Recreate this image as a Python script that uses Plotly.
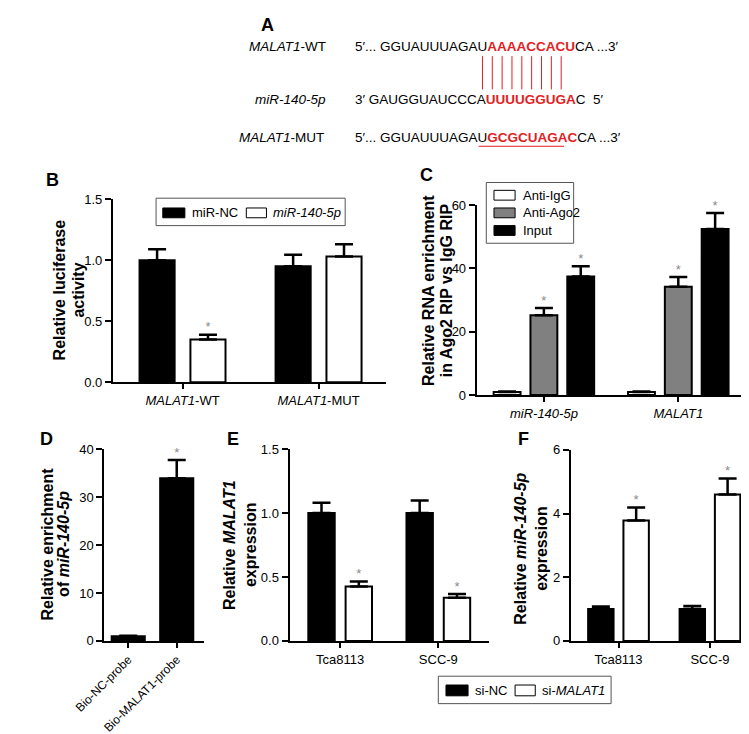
import plotly.graph_objects as go

FONT = "Liberation Sans, Arial, Helvetica, sans-serif"
W, H = 749, 734
RED = "#e31e24"
STAR = "#8a8a8a"
AGO_GRAY = "#808080"

# ---------------- data ----------------
b_categories = ["<i>MALAT1</i>-WT", "<i>MALAT1</i>-MUT"]
b_mirnc = [1.00, 0.95]
b_mirnc_err = [0.09, 0.095]
b_mir140 = [0.35, 1.03]
b_mir140_err = [0.04, 0.10]
b_mir140_sig = [True, False]
b_yticks = [0.0, 0.5, 1.0, 1.5]

c_categories = ["<i>miR-140-5p</i>", "<i>MALAT1</i>"]
c_igg = [1.0, 1.0]
c_igg_err = [0.1, 0.1]
c_ago2 = [25.2, 34.2]
c_ago2_err = [2.3, 3.1]
c_input = [37.4, 52.4]
c_input_err = [3.3, 5.1]
c_ago2_sig = [True, True]
c_input_sig = [True, True]
c_yticks = [0, 20, 40, 60]

d_categories = ["Bio-NC-probe", "Bio-MALAT1-probe"]
d_values = [1.0, 33.9]
d_err = [0.1, 3.8]
d_sig = [False, True]
d_yticks = [0, 10, 20, 30, 40]

e_categories = ["Tca8113", "SCC-9"]
e_sinc = [1.0, 1.0]
e_sinc_err = [0.08, 0.097]
e_simalat1 = [0.426, 0.337]
e_simalat1_err = [0.038, 0.03]
e_sig = [True, True]
e_yticks = [0.0, 0.5, 1.0, 1.5]

f_categories = ["Tca8113", "SCC-9"]
f_sinc = [1.0, 1.0]
f_sinc_err = [0.08, 0.10]
f_simalat1 = [3.78, 4.60]
f_simalat1_err = [0.41, 0.50]
f_sig = [True, True]
f_yticks = [0, 2, 4, 6]

# ---------------- helpers ----------------
def px(x):
    return x / W

def py(y):
    return 1 - y / H

fig = go.Figure()
layout = dict(
    width=W, height=H, margin=dict(l=0, r=0, t=0, b=0),
    paper_bgcolor="white", plot_bgcolor="white",
    barmode="overlay", showlegend=False,
    font=dict(family=FONT, size=13, color="black"),
)
annotations = []
shapes = []

def setup_axes(idx, xbox, ybox, xrange, yrange, categories, yticks, yfmt, tickangle=0, xfont=13):
    xs = "xaxis" if idx == 1 else f"xaxis{idx}"
    ys = "yaxis" if idx == 1 else f"yaxis{idx}"
    xa = "x" if idx == 1 else f"x{idx}"
    ya = "y" if idx == 1 else f"y{idx}"
    layout[xs] = dict(
        domain=[px(xbox[0]), px(xbox[1])], range=list(xrange), anchor=ya,
        showline=True, linecolor="black", linewidth=2, ticks="outside",
        ticklen=5, tickwidth=2, tickcolor="black",
        tickvals=list(range(len(categories))), ticktext=categories,
        tickfont=dict(size=xfont, family=FONT), tickangle=tickangle,
        showgrid=False, zeroline=False, fixedrange=True,
    )
    layout[ys] = dict(
        domain=[py(ybox[1]), py(ybox[0])], range=list(yrange), anchor=xa,
        showline=True, linecolor="black", linewidth=2, ticks="outside",
        ticklen=6, tickwidth=2, tickcolor="black",
        tickvals=yticks, ticktext=[format(v, yfmt) for v in yticks],
        tickfont=dict(size=13, family=FONT),
        showgrid=False, zeroline=False, fixedrange=True,
    )
    return xa, ya

def add_bars(xa, ya, vals, errs, offset, width, fill, sig=None):
    n = len(vals)
    xs = [i + offset for i in range(n)]
    fig.add_trace(go.Bar(
        x=xs, y=vals, width=width, xaxis=xa, yaxis=ya,
        marker=dict(color=fill, line=dict(color="black", width=2)),
        error_y=dict(type="data", symmetric=False, array=errs, arrayminus=[0] * n,
                     color="black", thickness=2.5, width=9),
        hoverinfo="skip",
    ))
    if sig:
        sx = [x for x, s in zip(xs, sig) if s]
        sy = [v + e for v, e, s in zip(vals, errs, sig) if s]
        fig.add_trace(go.Scatter(
            x=sx, y=sy, mode="text", text=["*"] * len(sx), textposition="top center",
            textfont=dict(color=STAR, size=13, family=FONT), xaxis=xa, yaxis=ya,
            cliponaxis=False, hoverinfo="skip",
        ))

def ytitle(x, y, text):
    annotations.append(dict(x=px(x), y=py(y), xref="paper", yref="paper", text=f"<b>{text}</b>",
                            textangle=-90, showarrow=False, xanchor="center", yanchor="middle",
                            font=dict(size=16, family=FONT)))

def label(x, y, text):
    annotations.append(dict(x=px(x), y=py(y), xref="paper", yref="paper", text=f"<b>{text}</b>",
                            showarrow=False, xanchor="left", yanchor="middle",
                            font=dict(size=18, family=FONT)))

def text(x, y, t, anchor="left", size=13):
    annotations.append(dict(x=px(x), y=py(y), xref="paper", yref="paper", text=t,
                            showarrow=False, xanchor=anchor, yanchor="middle",
                            font=dict(size=size, family=FONT)))

def rect(x0, y0, x1, y1, fill, line="black", lw=1):
    shapes.append(dict(type="rect", xref="paper", yref="paper", x0=px(x0), x1=px(x1),
                       y0=py(y1), y1=py(y0), fillcolor=fill, line=dict(color=line, width=lw)))

# ---------------- Panel A ----------------
label(230, 10, "A")
text(302, 32, "<i>MALAT1</i>-WT", anchor="right", size=13.5)
text(302, 86, "<i>miR-140-5p</i>", anchor="right", size=13.5)
text(300, 125, "<i>MALAT1</i>-MUT", anchor="right", size=13.5)
text(328, 32, f"5\u2032... GGUAUUUAGAU<b><span style='color:{RED}'>AAAACCACU</span></b>CA ...3\u2032", size=13.5)
text(328, 86, f"3\u2032 GAUGGUAUCCCA<b><span style='color:{RED}'>UUUUGGUGA</span></b>C\u00a0\u00a05\u2032", size=13.5)
text(328, 125, f"5\u2032... GGUAUUUAGAU<b><span style='color:{RED}'>GCGCUAGAC</span></b>CA ...3\u2032", size=13.5)
for k in range(9):
    lx = 463 + k * 10.25
    shapes.append(dict(type="line", xref="paper", yref="paper", x0=px(lx), x1=px(lx),
                       y0=py(42), y1=py(76), line=dict(color=RED, width=1)))
shapes.append(dict(type="line", xref="paper", yref="paper", x0=px(459), x1=px(548),
                   y0=py(134), y1=py(134), line=dict(color=RED, width=1)))

# ---------------- Panel B ----------------
xa, ya = setup_axes(1, (78, 362), (188, 375), (-0.512, 1.492), (0, 1.5), b_categories, b_yticks, ".1f")
add_bars(xa, ya, b_mirnc, b_mirnc_err, -0.187, 0.258, "black")
add_bars(xa, ya, b_mir140, b_mir140_err, 0.187, 0.258, "white", b_mir140_sig)
label(6, 168, "B")
ytitle(22, 281, "Relative luciferase")
ytitle(42, 281, "activity")
rect(123, 187, 320, 215, "white", line="#555555", lw=1)
rect(130, 197, 153, 207, "black")
text(158, 202, "miR-NC")
rect(217, 197, 238, 207, "white")
text(243, 202, "<i>miR-140-5p</i>")

# ---------------- Panel C ----------------
xa, ya = setup_axes(2, (457, 738), (194, 388), (-0.5, 1.507), (0, 60), c_categories, c_yticks, "d")
add_bars(xa, ya, c_igg, c_igg_err, -0.274, 0.2, "white")
add_bars(xa, ya, c_ago2, c_ago2_err, 0.0, 0.2, AGO_GRAY, c_ago2_sig)
add_bars(xa, ya, c_input, c_input_err, 0.274, 0.2, "black", c_input_sig)
label(396, 163, "C")
ytitle(407, 281, "Relative RNA enrichment")
ytitle(425, 281, "in Ago2 RIP vs IgG RIP")
rect(467, 171, 558, 233, "white", line="#555555", lw=1)
rect(475, 179, 497, 189, "white")
text(503, 184, "Anti-IgG")
rect(475, 197, 497, 207, AGO_GRAY)
text(503, 202, "Anti-Ago2")
rect(475, 215, 497, 225, "black")
text(503, 220, "Input")

# ---------------- Panel D ----------------
xa, ya = setup_axes(3, (69, 173), (443, 639), (-0.495, 1.564), (0, 40), d_categories, d_yticks, "d",
                    tickangle=-45, xfont=12)
add_bars(xa, ya, d_values, d_err, 0.0, 0.683, "black", d_sig)
label(0, 433, "D")
ytitle(10, 540, "Relative enrichment")
ytitle(27, 540, "of <i>miR-140-5p</i>")

# ---------------- Panel E ----------------
xa, ya = setup_axes(4, (262, 470), (443, 639), (-0.516, 1.518), (0, 1.5), e_categories, e_yticks, ".1f")
add_bars(xa, ya, e_sinc, e_sinc_err, -0.19, 0.269, "black")
add_bars(xa, ya, e_simalat1, e_simalat1_err, 0.19, 0.269, "white", e_sig)
label(195, 433, "E")
ytitle(200, 541, "Relative <i>MALAT1</i>")
ytitle(222, 541, "expression")

# ---------------- Panel F ----------------
xa, ya = setup_axes(5, (555, 748), (444, 639), (-0.522, 1.504), (0, 6), f_categories, f_yticks, "d")
add_bars(xa, ya, f_sinc, f_sinc_err, -0.193, 0.278, "black")
add_bars(xa, ya, f_simalat1, f_simalat1_err, 0.193, 0.278, "white", f_sig)
label(498, 433, "F")
ytitle(503, 545, "Relative <i>miR-140-5p</i>")
ytitle(525, 545, "expression")

# common legend for E/F
rect(417, 675, 597, 703, "white", line="#555555", lw=1)
rect(425, 684, 448, 695, "black")
text(453, 689.5, "si-NC")
rect(497, 684, 518, 695, "white")
text(523, 689.5, "si-<i>MALAT1</i>")

layout["annotations"] = annotations
layout["shapes"] = shapes
fig.update_layout(**layout)
fig.write_html("out.html")
